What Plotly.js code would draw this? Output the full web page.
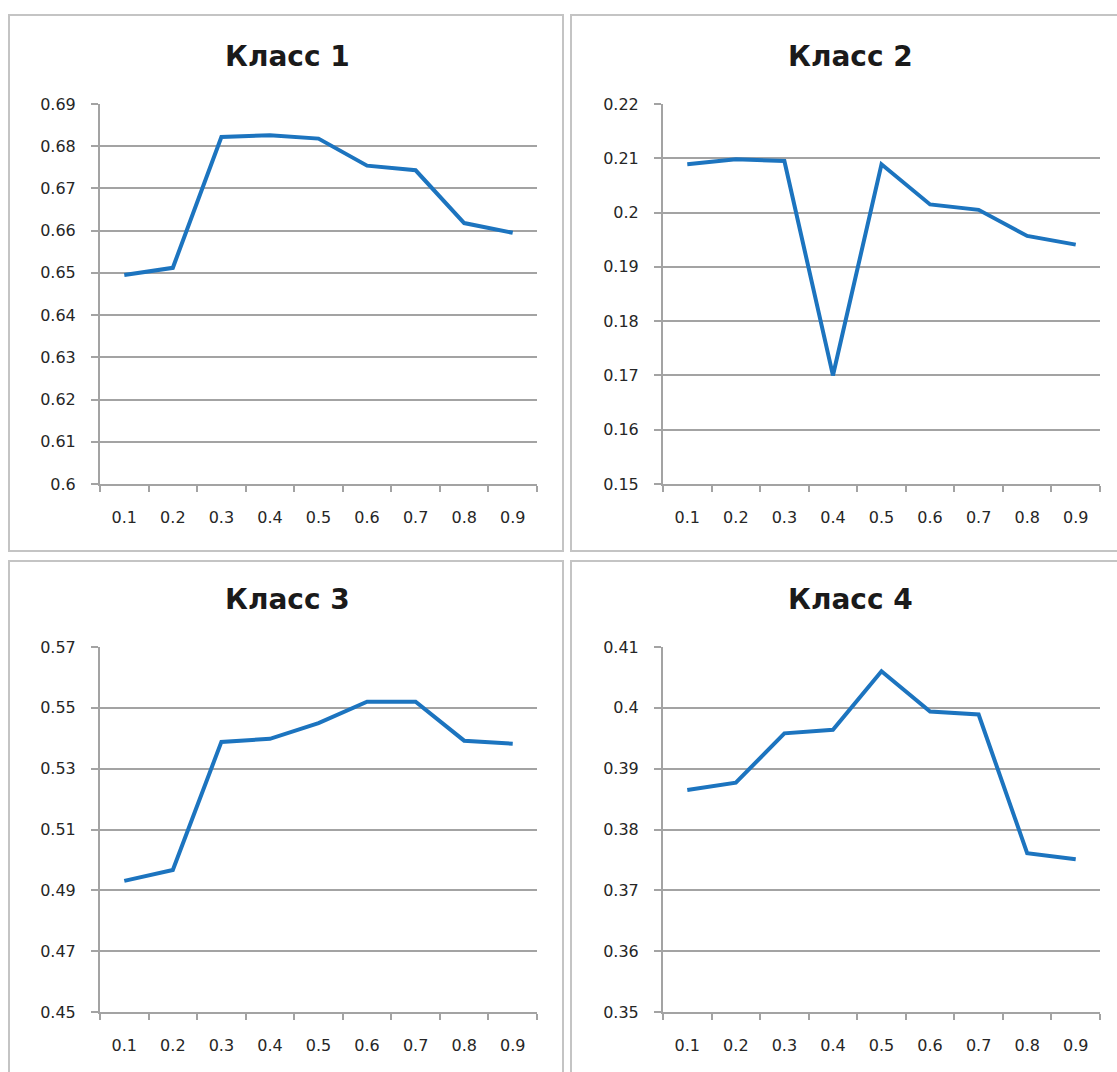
<!DOCTYPE html>
<html>
<head>
<meta charset="utf-8">
<script src="https://cdn.plot.ly/plotly-3.0.1.min.js"></script>
<style>
  html, body { margin: 0; padding: 0; background: #ffffff; }
  #chart { width: 1117px; height: 1072px; }
</style>
</head>
<body>
<div id="chart"></div>
<script>
// ---- Data ----
const categories = ['0.1', '0.2', '0.3', '0.4', '0.5', '0.6', '0.7', '0.8', '0.9'];

const titles = ['Класс 1', 'Класс 2', 'Класс 3', 'Класс 4'];

const class1 = [0.6495, 0.6512, 0.6822, 0.6826, 0.6818, 0.6754, 0.6743, 0.6618, 0.6595];
const class2 = [0.2089, 0.2098, 0.2095, 0.1700, 0.2089, 0.2015, 0.2005, 0.1957, 0.1941];
const class3 = [0.4931, 0.4967, 0.5388, 0.5398, 0.5450, 0.5520, 0.5520, 0.5392, 0.5382];
const class4 = [0.3865, 0.3877, 0.3958, 0.3964, 0.4060, 0.3994, 0.3989, 0.3761, 0.3751];

const yTicks1 = [0.6, 0.61, 0.62, 0.63, 0.64, 0.65, 0.66, 0.67, 0.68, 0.69];
const yTicks2 = [0.15, 0.16, 0.17, 0.18, 0.19, 0.2, 0.21, 0.22];
const yTicks3 = [0.45, 0.47, 0.49, 0.51, 0.53, 0.55, 0.57];
const yTicks4 = [0.35, 0.36, 0.37, 0.38, 0.39, 0.4, 0.41];

// ---- Styling / layout ----
const W = 1117, H = 1072;
const px = v => v / W;
const py = v => 1 - v / H;

const lineColor = '#1c74bf';
const gridColor = '#a3a3a3';
const textColor = '#262626';
const frameColor = '#c4c4c4';

const series = [class1, class2, class3, class4];
const yTicks = [yTicks1, yTicks2, yTicks3, yTicks4];

const xDomains = [[px(100), px(537)], [px(663), px(1100)], [px(100), px(537)], [px(663), px(1100)]];
const yDomains = [[py(484), py(104)], [py(484), py(104)], [py(1012), py(647)], [py(1012), py(647)]];

const traces = series.map((s, i) => ({
  type: 'scatter',
  mode: 'lines',
  x: categories,
  y: s,
  xaxis: i === 0 ? 'x' : 'x' + (i + 1),
  yaxis: i === 0 ? 'y' : 'y' + (i + 1),
  line: { color: lineColor, width: 4 },
  hoverinfo: 'x+y',
  showlegend: false
}));

const tickFont = { family: 'DejaVu Sans, Verdana, sans-serif', size: 16, color: textColor };

const layout = {
  width: W,
  height: H,
  margin: { l: 0, r: 0, t: 0, b: 0 },
  paper_bgcolor: '#ffffff',
  plot_bgcolor: '#ffffff',
  showlegend: false,
  annotations: [],
  shapes: []
};

for (let i = 0; i < 4; i++) {
  const xk = i === 0 ? 'xaxis' : 'xaxis' + (i + 1);
  const yk = i === 0 ? 'yaxis' : 'yaxis' + (i + 1);
  const yName = i === 0 ? 'y' : 'y' + (i + 1);
  const xName = i === 0 ? 'x' : 'x' + (i + 1);
  const t = yTicks[i];
  const span = t[t.length - 1] - t[0];
  layout[xk] = {
    domain: xDomains[i],
    anchor: yName,
    type: 'category',
    categoryorder: 'array',
    categoryarray: categories,
    range: [-0.5, categories.length - 0.5],
    tickson: 'boundaries',
    ticks: 'outside',
    ticklen: 6,
    tickwidth: 2,
    tickcolor: gridColor,
    showline: true,
    linecolor: gridColor,
    linewidth: 2,
    showgrid: false,
    zeroline: false,
    tickfont: tickFont,
    ticklabelstandoff: 18,
    fixedrange: true
  };
  layout[yk] = {
    domain: yDomains[i],
    anchor: xName,
    range: [t[0] - span * 1e-6, t[t.length - 1] + span * 1e-6],
    tickmode: 'array',
    tickvals: t,
    ticktext: t.map(v => String(v)),
    ticks: 'outside',
    ticklen: 7,
    tickwidth: 2,
    tickcolor: gridColor,
    showline: true,
    linecolor: gridColor,
    linewidth: 2,
    showgrid: true,
    gridcolor: gridColor,
    gridwidth: 2,
    zeroline: false,
    tickfont: tickFont,
    ticklabelstandoff: 12,
    fixedrange: true
  };
}

// Panel frames
const frames = [
  [9, 15, 563, 551],
  [571, 15, 1130, 551],
  [9, 561, 563, 1090],
  [571, 561, 1130, 1090]
];
frames.forEach(f => {
  layout.shapes.push({
    type: 'rect', xref: 'paper', yref: 'paper',
    x0: px(f[0]), x1: px(f[2]), y0: py(f[3]), y1: py(f[1]),
    line: { color: frameColor, width: 2 },
    fillcolor: 'rgba(0,0,0,0)',
    layer: 'below'
  });
});

// Titles
const titlePos = [[287, 56], [850, 56], [287, 599], [850, 599]];
titles.forEach((txt, i) => {
  layout.annotations.push({
    text: '<b>' + txt + '</b>',
    xref: 'paper', yref: 'paper',
    x: px(titlePos[i][0]), y: py(titlePos[i][1]),
    xanchor: 'center', yanchor: 'middle',
    showarrow: false,
    font: { family: 'DejaVu Sans, sans-serif', size: 28, color: '#1a1a1a' }
  });
});

Plotly.newPlot('chart', traces, layout, { displayModeBar: false, staticPlot: true });
</script>
</body>
</html>
